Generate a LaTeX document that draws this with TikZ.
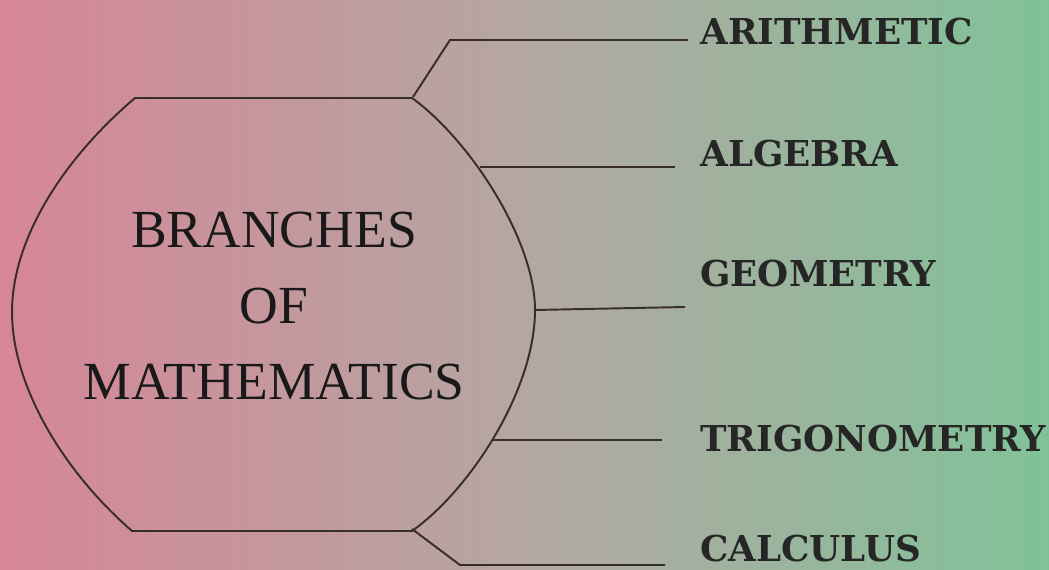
\documentclass[tikz,border=0pt]{standalone}
\usepackage{fontspec}
\usepackage{xcolor}
\usepackage{tikz}
\setmainfont{Liberation Serif}
\newfontfamily\branchfont{DejaVu Serif}

\definecolor{bgpink}{RGB}{214,134,150}
\definecolor{bggrey}{RGB}{180,167,162}
\definecolor{bggreen}{RGB}{128,194,152}
\definecolor{inkline}{RGB}{55,45,45}

\begin{document}
\begin{tikzpicture}[x=0.02cm, y=-0.02cm,
        outline/.style={draw=inkline, line width=1.1pt},
        branch/.style={anchor=base west, inner sep=0pt, font=\branchfont\bfseries\fontsize{20.3}{22}\selectfont, text=black!85}]

        % background
        \fill[left color=bgpink, right color=bggreen, middle color=bggrey] (0,0) rectangle (1049,570);
        \useasboundingbox (0,0) rectangle (1049,570);

        % the box round the title
        \draw[outline] (135,98) -- (412,98)
            .. controls (470,140) and (535,240) .. (535,310)
            .. controls (535,390) and (470,490) .. (412,531)
            -- (132,531)
            .. controls (62,470) and (12,385) .. (12,312)
            .. controls (12,240) and (62,160) .. cycle;

        \node[align=center, font=\fontsize{30.5}{43.5}\selectfont, text=black!90] (title) at (274,306) {BRANCHES\\OF\\MATHEMATICS};

        % branches
        \node[branch] (arith) at (700,45) {ARITHMETIC};
        \node[branch] (alg) at (700,167) {ALGEBRA};
        \node[branch] (geom) at (700,287) {GEOMETRY};
        \node[branch] (trig) at (700,452) {TRIGONOMETRY};
        \node[branch] (calc) at (700,562) {CALCULUS};

        \coordinate (arith-in) at (413,97);
        \coordinate (arith-bend) at (450,40);
        \coordinate (arith-end) at (688,40);
        \coordinate (alg-in) at (480,167);
        \coordinate (alg-end) at (675,167);
        \coordinate (geom-in) at (535,310);
        \coordinate (geom-end) at (685,307);
        \coordinate (trig-in) at (493,440);
        \coordinate (trig-end) at (662,440);
        \coordinate (calc-in) at (412,529);
        \coordinate (calc-bend) at (460,565);
        \coordinate (calc-end) at (665,565);

        \draw[outline] (arith-in) -- (arith-bend) -- (arith-end);
        \draw[outline] (alg-in) -- (alg-end);
        \draw[outline] (geom-in) -- (geom-end);
        \draw[outline] (trig-in) -- (trig-end);
        \draw[outline] (calc-in) -- (calc-bend) -- (calc-end);

    \end{tikzpicture}
\end{document}
